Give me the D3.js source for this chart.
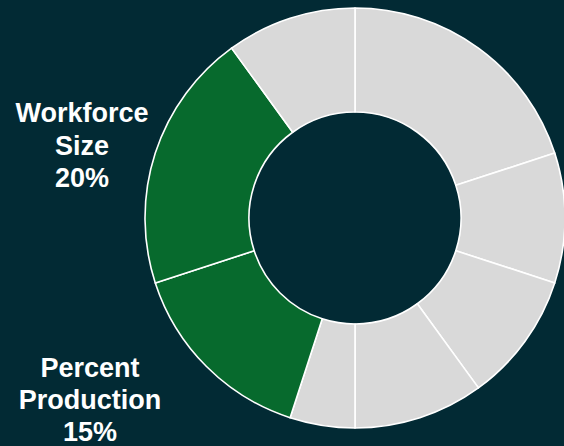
<!DOCTYPE html>
<html>
<head>
<meta charset="utf-8">
<script src="https://cdn.jsdelivr.net/npm/d3@7"></script>
<style>
  html, body { margin: 0; padding: 0; background: #022a34; }
  svg { display: block; }
</style>
</head>
<body>
<svg id="viz" width="564" height="446"></svg>
<script>
'use strict'

// slices clockwise from 12 o'clock, in percent
const sliceValues = [20, 10, 10, 10, 5, 15, 20, 10]
const sliceHighlight = [false, false, false, false, false, true, true, false]

const labelLines = [
  ['Workforce', 'Size', '20%'],
  ['Percent', 'Production', '15%']
]
// slice index each label belongs to
const labelSlice = [6, 5]

;(function (d3) {
  const width = 564
  const height = 446
  const center = { x: 355, y: 218 }
  const radius = { inner: 106, outer: 210 }

  const svg = d3.select('#viz')

  svg.append('rect')
    .attr('width', width)
    .attr('height', height)
    .attr('fill', '#022a34')

  const pie = d3.pie()
    .sort(null)
    .value(d => d)

  const arc = d3.arc()
    .innerRadius(radius.inner)
    .outerRadius(radius.outer)

  const g = svg.append('g')
    .attr('transform', 'translate(' + center.x + ',' + center.y + ')')

  g.selectAll('path')
    .data(pie(sliceValues))
    .enter()
    .append('path')
    .attr('d', arc)
    .attr('fill', (d, i) => sliceHighlight[i] ? '#076a2d' : '#d9d9d9')
    .attr('stroke', '#ffffff')
    .attr('stroke-width', 1.6)
    .attr('stroke-linejoin', 'round')

  // labels sit to the left of the chart
  const labelPos = [
    { x: 82, y: 122 },
    { x: 90, y: 377 }
  ]

  labelLines.forEach((lines, k) => {
    const t = svg.append('text')
      .attr('class', 'slice-label')
      .attr('data-slice', labelSlice[k])
      .attr('x', labelPos[k].x)
      .attr('y', labelPos[k].y)
      .attr('text-anchor', 'middle')
      .attr('fill', '#ffffff')
      .style('font-family', '"Liberation Sans", Arial, sans-serif')
      .style('font-weight', 'bold')
      .style('font-size', '27px')

    lines.forEach((line, i) => {
      t.append('tspan')
        .attr('x', labelPos[k].x)
        .attr('dy', i === 0 ? 0 : (k === 0 ? 32.5 : 32))
        .text(line)
    })
  })
})(d3)
</script>
</body>
</html>
